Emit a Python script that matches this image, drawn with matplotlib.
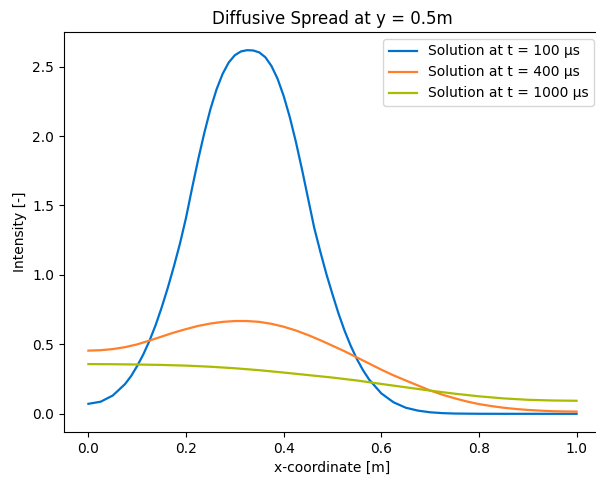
import matplotlib
matplotlib.use("Agg")
import matplotlib.pyplot as plt

# t = 100 us samples (denser where the curve bends)
x_100 = [0.0, 0.025, 0.05, 0.075, 0.0875, 0.1, 0.1125, 0.125, 0.1375, 0.15,
         0.1625, 0.175, 0.1875, 0.2, 0.2125, 0.225, 0.2375, 0.25, 0.2625, 0.275,
         0.2875, 0.3, 0.3125, 0.325, 0.3375, 0.35, 0.3625, 0.375, 0.3875, 0.4,
         0.4125, 0.425, 0.4375, 0.45, 0.4625, 0.475, 0.4875, 0.5, 0.5125, 0.525,
         0.5375, 0.55, 0.5625, 0.575, 0.6, 0.625, 0.65, 0.675, 0.7, 0.725,
         0.75, 0.8, 0.85, 0.9, 0.95, 1.0]
sol_100 = [0.072, 0.087, 0.132, 0.214, 0.272, 0.345, 0.428, 0.525, 0.637, 0.765,
           0.906, 1.060, 1.225, 1.412, 1.627, 1.833, 2.024, 2.194, 2.336, 2.448,
           2.530, 2.582, 2.609, 2.618, 2.616, 2.602, 2.567, 2.504, 2.412, 2.288,
           2.136, 1.958, 1.760, 1.550, 1.340, 1.168, 1.006, 0.860, 0.720, 0.596,
           0.488, 0.394, 0.314, 0.247, 0.147, 0.083, 0.044, 0.023, 0.011, 0.005,
           0.002, 0.0003, 0.0, 0.0, 0.0, 0.0]

# t = 400 us samples
x_400 = [0.0, 0.025, 0.05, 0.075, 0.1, 0.125, 0.15, 0.175, 0.2, 0.225,
         0.25, 0.275, 0.3, 0.325, 0.35, 0.375, 0.4, 0.425, 0.45, 0.475,
         0.5, 0.525, 0.55, 0.575, 0.6, 0.625, 0.65, 0.675, 0.7, 0.725,
         0.75, 0.775, 0.8, 0.825, 0.85, 0.875, 0.9, 0.925, 0.95, 0.975, 1.0]
sol_400 = [0.455, 0.458, 0.466, 0.48, 0.50, 0.527, 0.556, 0.585, 0.610, 0.633,
           0.650, 0.662, 0.668, 0.668, 0.662, 0.648, 0.627, 0.600, 0.567, 0.530,
           0.490, 0.450, 0.406, 0.362, 0.318, 0.277, 0.240, 0.204, 0.168, 0.138,
           0.112, 0.089, 0.070, 0.056, 0.044, 0.035, 0.028, 0.023, 0.019, 0.017, 0.016]

# t = 1000 us samples
x_1000 = [0.0, 0.05, 0.1, 0.15, 0.2, 0.25, 0.3, 0.35, 0.4, 0.45, 0.5,
          0.55, 0.6, 0.65, 0.7, 0.75, 0.8, 0.85, 0.9, 0.95, 1.0]
sol_1000 = [0.358, 0.357, 0.355, 0.352, 0.347, 0.339, 0.328, 0.314, 0.297, 0.279,
            0.261, 0.240, 0.215, 0.191, 0.167, 0.145, 0.126, 0.111, 0.101, 0.096, 0.094]

labels = ["Solution at t = 100 µs", "Solution at t = 400 µs", "Solution at t = 1000 µs"]
colors = ["#0072CE", "#FF7F2A", "#AABB00"]

fig = plt.figure(figsize=(5.96, 4.79), dpi=100)
ax = fig.add_axes([64 / 596, 47 / 479, 537 / 596, 400 / 479])

ax.plot(x_100, sol_100, color=colors[0], lw=1.6, label=labels[0])
ax.plot(x_400, sol_400, color=colors[1], lw=1.6, label=labels[1])
ax.plot(x_1000, sol_1000, color=colors[2], lw=1.6, label=labels[2])

ax.set_title("Diffusive Spread at y = 0.5m")
ax.set_xlabel("x-coordinate [m]")
ax.set_ylabel("Intensity [-]")
ax.legend(loc="upper right")

fig.savefig("out.png", dpi=100)
